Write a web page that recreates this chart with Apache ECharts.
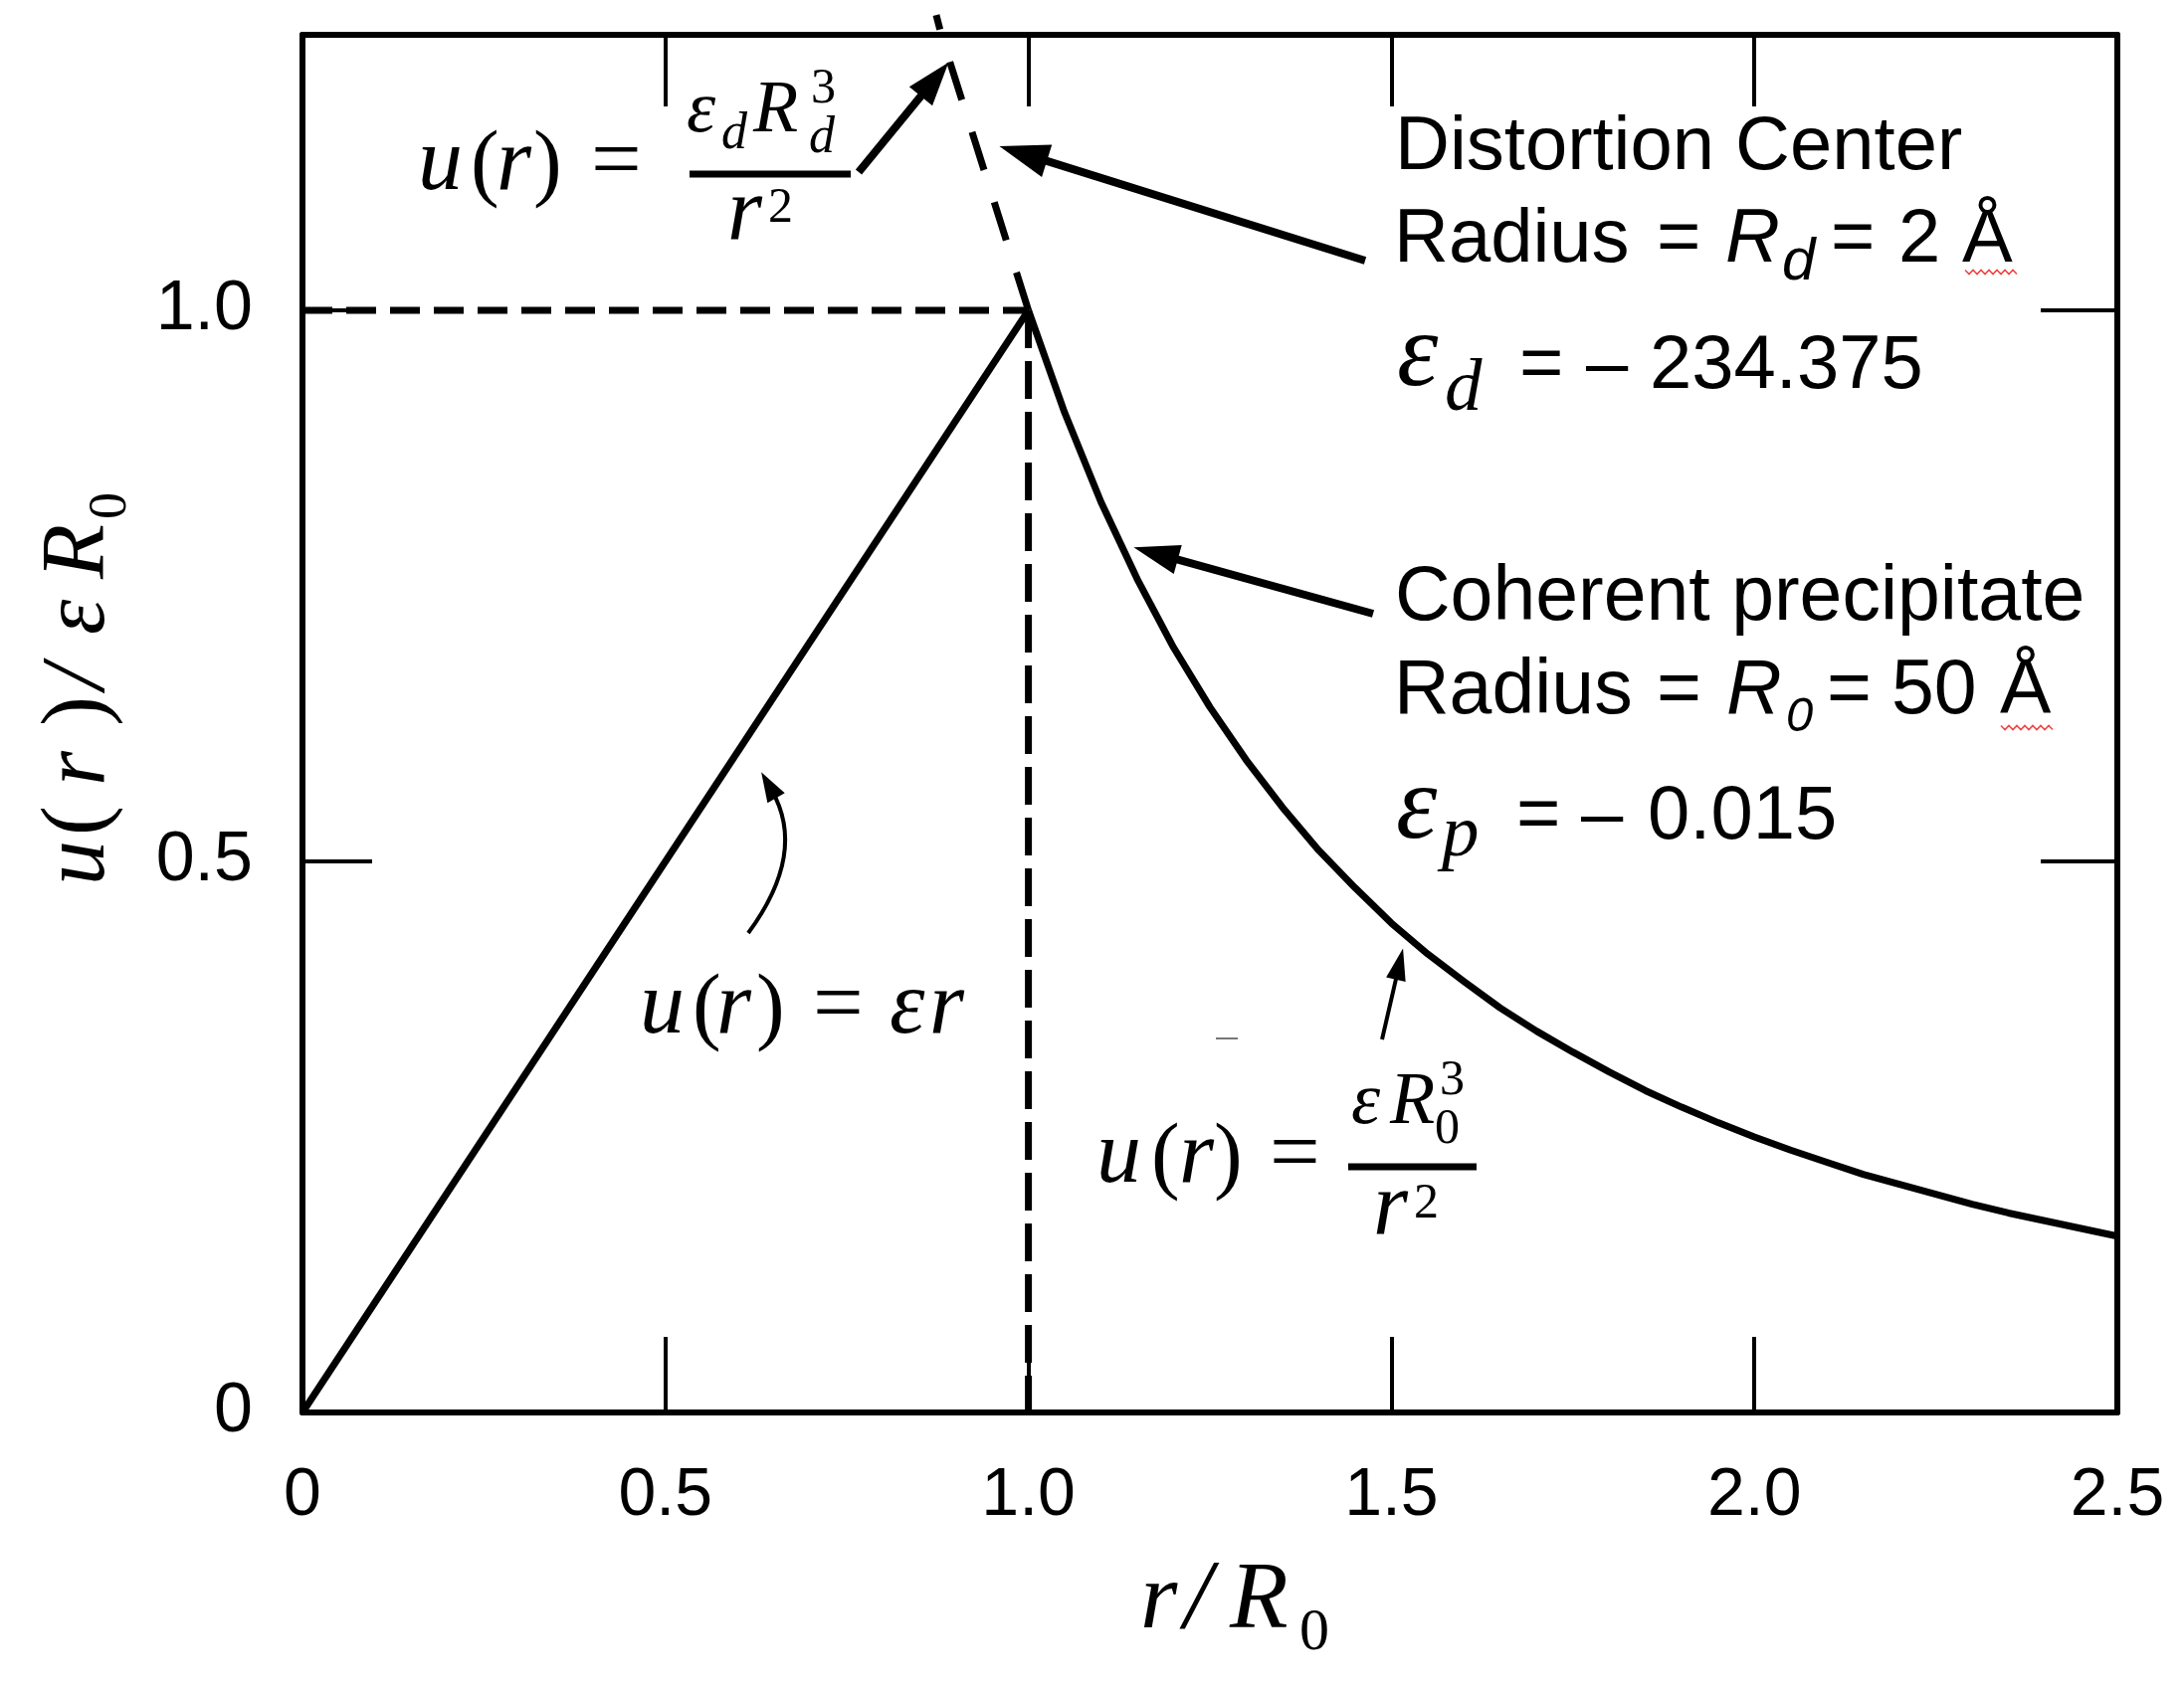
<!DOCTYPE html>
<html>
<head>
<meta charset="utf-8">
<script src="https://cdn.jsdelivr.net/npm/echarts/dist/echarts.min.js"></script>
<style>html,body{margin:0;padding:0;background:#fff}#c{width:2195px;height:1698px}</style>
</head>
<body>
<div id="c"></div>
<script>
// ---------------- data ----------------
const xTickValues = [0, 0.5, 1.0, 1.5, 2.0, 2.5];
const yTickValues = [0, 0.5, 1.0];
// inside the precipitate: u(r) = eps r
const rInside = [0, 1.0];
const uInside = [0, 1.0];
// outside the precipitate: u(r) = eps R0^3 / r^2
const rOutside = [1.00, 1.05, 1.10, 1.15, 1.20, 1.25, 1.30, 1.35, 1.40, 1.45, 1.50, 1.55, 1.60, 1.65, 1.70, 1.75,
                  1.80, 1.85, 1.90, 1.95, 2.00, 2.05, 2.10, 2.15, 2.20, 2.25, 2.30, 2.35, 2.40, 2.45, 2.50];
const uOutside = [1.000, 0.907, 0.826, 0.756, 0.694, 0.640, 0.592, 0.549, 0.510, 0.476, 0.444, 0.416, 0.391, 0.367,
                  0.346, 0.327, 0.309, 0.292, 0.277, 0.263, 0.250, 0.238, 0.227, 0.216, 0.207, 0.198, 0.189, 0.181,
                  0.174, 0.167, 0.160];
// distortion-centre branch (dashed, rising above the frame)
const rDistortion = [1.0, 0.94, 0.88, 0.873];
const uDistortion = [1.0, 1.125, 1.25, 1.268];
// guide lines
const rGuideH = [0, 1.0];
const uGuideH = [1.0, 1.0];
const rGuideV = [1.0, 1.0];
const uGuideV = [1.0, 0];
// arrow targets (data coordinates)
const arrowTargets = {
  distFormula: [0.89, 1.225],
  distCenter: [0.96, 1.149],
  coherent: [1.145, 0.785],
  linear: [0.632, 0.581],
  decay: [1.516, 0.421]
};

const zip = (a, b) => a.map((v, i) => [v, b[i]]);

// ---------------- styles ----------------
const SANS = '"Liberation Sans", Arial, Helvetica, sans-serif';
const SERIF = '"Liberation Serif", "Times New Roman", serif';
const fmt = v => {
  if (Math.abs(v) < 1e-9) return '0';
  for (const t of xTickValues) if (Math.abs(v - t) < 1e-9) return v.toFixed(1);
  return '';
};
const fmtY = v => {
  if (Math.abs(v) < 1e-9) return '0';
  for (const t of yTickValues) if (Math.abs(v - t) < 1e-9) return v.toFixed(1);
  return '';
};
const frameLine = {show: true, onZero: false, lineStyle: {color: '#000', width: 6}};

const chart = echarts.init(document.getElementById('c'), null, {renderer: 'canvas'});

const option = {
  animation: false,
  backgroundColor: '#fff',
  grid: {left: 304, right: 67, top: 35, bottom: 278, containLabel: false, outerBoundsMode: 'none'},
  xAxis: [
    {type: 'value', min: 0, max: 2.5, interval: 0.5, position: 'bottom',
     axisLine: frameLine,
     axisTick: {show: true, inside: true, length: 76, lineStyle: {color: '#000', width: 4}},
     axisLabel: {show: true, margin: 50, color: '#000', fontSize: 68, fontFamily: SANS, formatter: fmt},
     splitLine: {show: false}},
    {type: 'value', min: 0, max: 2.5, interval: 0.5, position: 'top',
     axisLine: frameLine,
     axisTick: {show: true, inside: true, length: 72, lineStyle: {color: '#000', width: 4}},
     axisLabel: {show: false},
     splitLine: {show: false}}
  ],
  yAxis: [
    {type: 'value', min: 0, max: 1.25, interval: 0.5, position: 'left',
     axisLine: frameLine,
     axisTick: {show: true, inside: true, length: 70, lineStyle: {color: '#000', width: 4}},
     axisLabel: {show: true, margin: 50, color: '#000', fontSize: 70, fontFamily: SANS, formatter: fmtY},
     splitLine: {show: false}},
    {type: 'value', min: 0, max: 1.25, interval: 0.5, position: 'right',
     axisLine: frameLine,
     axisTick: {show: true, inside: true, length: 77, lineStyle: {color: '#000', width: 4}},
     axisLabel: {show: false},
     splitLine: {show: false}}
  ],
  series: [
    {type: 'line', name: 'guideH', data: zip(rGuideH, uGuideH), symbol: 'none', silent: true,
     lineStyle: {color: '#000', width: 7, type: [30, 14]}, z: 2},
    {type: 'line', name: 'guideV', data: zip(rGuideV, uGuideV), symbol: 'none', silent: true,
     lineStyle: {color: '#000', width: 7, type: [38, 13]}, z: 2},
    {type: 'line', name: 'distortion', data: zip(rDistortion, uDistortion), symbol: 'none', silent: true, clip: false,
     lineStyle: {color: '#000', width: 7, type: [40, 34]}, z: 2},
    {type: 'line', name: 'inside', data: zip(rInside, uInside), symbol: 'none', silent: true,
     lineStyle: {color: '#000', width: 7}, z: 3},
    {type: 'line', name: 'outside', data: zip(rOutside, uOutside), symbol: 'none', silent: true,
     lineStyle: {color: '#000', width: 7, join: 'round'}, z: 3}
  ]
};
chart.setOption(option);

// ---------------- annotations ----------------
function T(s, x, base, size, fam, style) {
  const k = fam === SERIF ? 0.3375 : 0.3465;
  return {type: 'text', x: x, y: base - k * size, z: 50, silent: true,
    style: {text: s, fill: '#000', fontSize: size, fontFamily: fam, fontStyle: style || 'normal',
            align: 'left', verticalAlign: 'middle'}};
}
function bar(x1, x2, y, w) {
  return {type: 'line', z: 50, silent: true, shape: {x1: x1, y1: y, x2: x2, y2: y},
          style: {stroke: '#000', lineWidth: w}};
}
function arrow(tail, tip, w, hl, hw, ctrl) {
  const els = [];
  const from = ctrl || tail;
  const dx = tip[0] - from[0], dy = tip[1] - from[1];
  const L = Math.hypot(dx, dy), ux = dx / L, uy = dy / L;
  const bx = tip[0] - ux * hl, by = tip[1] - uy * hl;
  const px = -uy, py = ux;
  const end = [tip[0] - ux * hl * 0.7, tip[1] - uy * hl * 0.7];
  if (ctrl) {
    els.push({type: 'bezierCurve', z: 50, silent: true,
      shape: {x1: tail[0], y1: tail[1], x2: end[0], y2: end[1], cpx1: ctrl[0], cpy1: ctrl[1]},
      style: {stroke: '#000', lineWidth: w, fill: 'none'}});
  } else {
    els.push({type: 'line', z: 50, silent: true,
      shape: {x1: tail[0], y1: tail[1], x2: end[0], y2: end[1]},
      style: {stroke: '#000', lineWidth: w}});
  }
  els.push({type: 'polygon', z: 51, silent: true,
    shape: {points: [[tip[0], tip[1]], [bx + px * hw / 2, by + py * hw / 2], [bx - px * hw / 2, by - py * hw / 2]]},
    style: {fill: '#000'}});
  return els;
}
function squiggle(x0, x1, y) {
  const pts = [];
  let i = 0;
  for (let x = x0; x <= x1; x += 4, i++) pts.push([x, y + (i % 2 ? 2.5 : -1.5)]);
  return {type: 'polyline', z: 50, silent: true, shape: {points: pts},
          style: {stroke: '#ee4a4a', lineWidth: 1.6, fill: 'none'}};
}
const P = d => chart.convertToPixel({xAxisIndex: 0, yAxisIndex: 0}, d);

const g = [];
// top-left formula: u(r) = eps_d R_d^3 / r^2
g.push(T('u', 420, 197, 90, SERIF, 'italic'), T('(', 473, 197, 86, SERIF), T('r', 499, 197, 90, SERIF, 'italic'),
       T(')', 536, 197, 86, SERIF), T('=', 594, 197, 90, SERIF));
g.push(bar(693, 855, 175, 7));
g.push(T('\u03B5', 690, 138, 74, SERIF, 'italic'), T('d', 725, 153, 52, SERIF, 'italic'),
       T('R', 757, 138, 74, SERIF, 'italic'), T('3', 815, 107, 50, SERIF), T('d', 813, 157, 52, SERIF, 'italic'),
       T('r', 731, 247, 90, SERIF, 'italic'), T('2', 772, 227, 50, SERIF));
// middle formula: u(r) = eps r
g.push(T('u', 643, 1045, 90, SERIF, 'italic'), T('(', 696, 1045, 86, SERIF), T('r', 720, 1045, 90, SERIF, 'italic'),
       T(')', 760, 1045, 86, SERIF), T('=', 817, 1045, 90, SERIF), T('\u03B5', 894, 1045, 90, SERIF, 'italic'),
       T('r', 934, 1045, 90, SERIF, 'italic'));
// bottom formula: u(r) = eps R0^3 / r^2
g.push(T('u', 1102, 1195, 90, SERIF, 'italic'), T('(', 1157, 1195, 86, SERIF), T('r', 1185, 1195, 90, SERIF, 'italic'),
       T(')', 1220, 1195, 86, SERIF), T('=', 1276, 1195, 90, SERIF));
g.push(bar(1355, 1484, 1173, 7));
g.push(T('\u03B5', 1358, 1135, 74, SERIF, 'italic'), T('R', 1397, 1135, 74, SERIF, 'italic'),
       T('0', 1442, 1153, 50, SERIF), T('3', 1447, 1104, 50, SERIF),
       T('r', 1380, 1247, 90, SERIF, 'italic'), T('2', 1421, 1228, 50, SERIF));
// Distortion center block
g.push(T('Distortion Center', 1402, 175, 76, SANS));
g.push(T('Radius', 1401, 268, 76, SANS), T('=', 1665, 268, 76, SANS), T('R', 1734, 268, 76, SANS, 'italic'),
       T('d', 1791, 285, 60, SANS, 'italic'), T('=', 1840, 268, 76, SANS), T('2', 1908, 268, 76, SANS),
       T('\u00C5', 1972, 268, 76, SANS));
g.push(squiggle(1975, 2028, 273));
g.push(T('\u03B5', 1404, 395, 105, SERIF, 'italic'), T('d', 1452, 418, 75, SERIF, 'italic'),
       T('=', 1527, 395, 76, SANS), T('\u2013', 1594, 395, 76, SANS), T('234.375', 1658, 395, 76, SANS));
// Coherent precipitate block
g.push(T('Coherent precipitate', 1402, 628, 77, SANS));
g.push(T('Radius', 1401, 722, 77, SANS), T('=', 1665, 722, 77, SANS), T('R', 1735, 722, 77, SANS, 'italic'),
       T('0', 1795, 738, 49, SANS, 'italic'), T('=', 1836, 722, 77, SANS), T('50', 1901, 722, 77, SANS),
       T('\u00C5', 2010, 722, 77, SANS));
g.push(squiggle(2011, 2065, 731));
g.push(T('\u03B5', 1403, 850, 105, SERIF, 'italic'), T('p', 1449, 866, 75, SERIF, 'italic'),
       T('=', 1524, 848, 76, SANS), T('\u2013', 1589, 848, 76, SANS), T('0.015', 1656, 848, 76, SANS));
// axis names
g.push(T('r', 1146, 1643, 96, SERIF, 'italic'), T('/', 1190, 1643, 100, SERIF, 'italic'),
       T('R', 1236, 1643, 96, SERIF, 'italic'), T('0', 1306, 1662, 60, SERIF));
g.push({type: 'group', x: 111, y: 890, rotation: Math.PI / 2, children: [
  T('u', 0, 0, 90, SERIF, 'italic'), T('(', 50, 0, 90, SERIF), T('r', 100, 0, 90, SERIF, 'italic'),
  T(')', 160, 0, 90, SERIF), T('/', 197, 0, 90, SERIF, 'italic'), T('\u03B5', 252, 0, 90, SERIF, 'italic'),
  T('R', 308, 0, 90, SERIF, 'italic'), T('0', 368, 19, 54, SERIF)
]});
// arrows
g.push(...arrow([863, 173], P(arrowTargets.distFormula), 8, 44, 30));
g.push(...arrow([1372, 262], P(arrowTargets.distCenter), 8, 50, 34));
g.push(...arrow([1380, 617], P(arrowTargets.coherent), 8, 46, 30));
(function () {
  const tail = [752, 938], tip = P(arrowTargets.linear);
  const ctrl = [(tail[0] + tip[0]) / 2 + 53, (tail[1] + tip[1]) / 2];
  g.push(...arrow(tail, tip, 4, 30, 20, ctrl));
})();
g.push(...arrow([1389, 1045], P(arrowTargets.decay), 4, 32, 20));
// small stray mark of the scan
g.push({type: 'line', z: 50, silent: true, shape: {x1: 1222, y1: 1044, x2: 1244, y2: 1044},
        style: {stroke: '#777', lineWidth: 2}});

chart.setOption({graphic: g});
</script>
</body>
</html>
